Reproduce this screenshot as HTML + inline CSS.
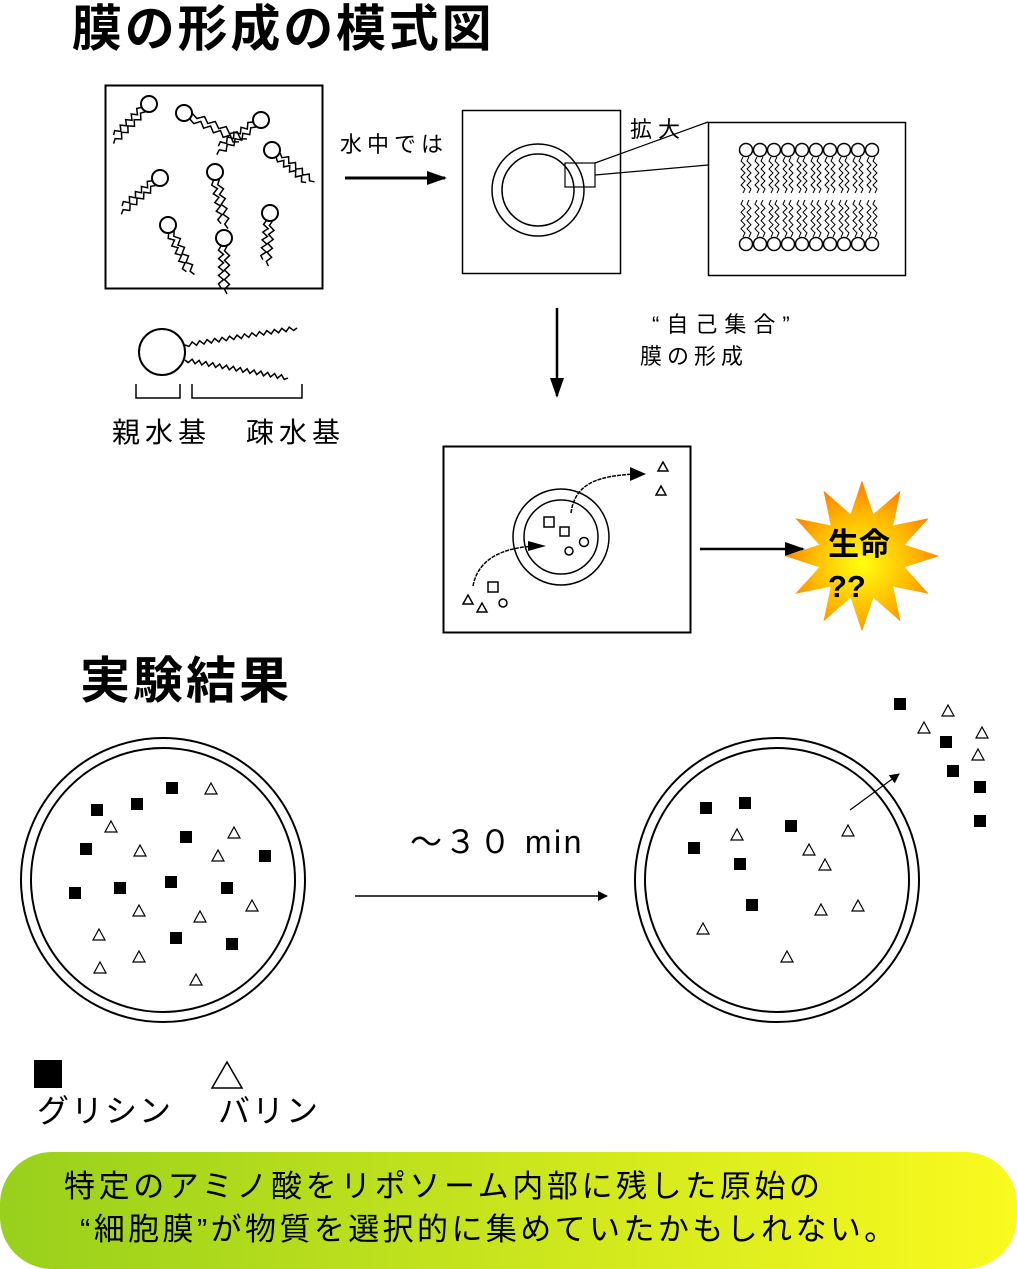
<!DOCTYPE html>
<html><head><meta charset="utf-8"><style>
html,body{margin:0;padding:0;background:#fff}
svg{display:block}
text{font-family:"Liberation Sans","Noto Sans CJK JP",sans-serif}
</style></head><body>
<svg id="s" width="1017" height="1269" viewBox="0 0 1017 1269" xmlns="http://www.w3.org/2000/svg">
<defs>
<linearGradient id="bar" x1="0" x2="1" y1="0" y2="0"><stop offset="0" stop-color="#98d01c"/><stop offset="1" stop-color="#fafa1e"/></linearGradient>
<radialGradient id="star" cx="0.5" cy="0.55" r="0.55"><stop offset="0" stop-color="#ffff10"/><stop offset="0.6" stop-color="#ffb800"/><stop offset="1" stop-color="#ff7a00"/></radialGradient>
<marker id="ah" markerWidth="10" markerHeight="10" refX="9" refY="5" orient="auto" markerUnits="userSpaceOnUse"><path d="M0,0 L10,5 L0,10 z" fill="#000"/></marker>
<marker id="ah2" markerWidth="20" markerHeight="14" refX="18" refY="7" orient="auto" markerUnits="userSpaceOnUse"><path d="M0,0 L20,7 L0,14 z" fill="#000"/></marker>
</defs>
<text x="72" y="46" font-size="50" font-weight="bold" letter-spacing="2.8">膜の形成の模式図</text>
<rect x="105.5" y="85.5" width="217" height="203" fill="none" stroke="#000" stroke-width="2"/>
<g id="lip" fill="none" stroke="#000" stroke-width="2"></g>
<line x1="345" y1="178" x2="445" y2="178" stroke="#000" stroke-width="3" marker-end="url(#ah2)"/>
<text x="340" y="152" font-size="22" letter-spacing="5">水中では</text>
<rect x="462.5" y="110.5" width="158" height="163" fill="none" stroke="#000" stroke-width="1.5"/>
<circle cx="538" cy="190" r="46" fill="none" stroke="#000" stroke-width="1.5"/>
<circle cx="538" cy="190" r="36" fill="none" stroke="#000" stroke-width="1.5"/>
<rect x="565" y="163" width="30" height="24" fill="none" stroke="#000" stroke-width="1.2"/>
<line x1="595" y1="163" x2="708" y2="122" stroke="#000" stroke-width="1.2"/>
<line x1="595" y1="175" x2="708" y2="165" stroke="#000" stroke-width="1.2"/>
<text x="630" y="137" font-size="22" letter-spacing="6">拡大</text>
<rect x="708.5" y="122.5" width="197" height="153" fill="none" stroke="#000" stroke-width="1.5"/>
<g id="bil" fill="#fff" stroke="#000" stroke-width="1.5"></g>
<line x1="557" y1="308" x2="557" y2="396" stroke="#000" stroke-width="2.5" marker-end="url(#ah2)"/>
<text x="652" y="332" font-size="22" letter-spacing="7">“自己集合”</text>
<text x="640" y="364" font-size="22" letter-spacing="5">膜の形成</text>
<circle cx="162" cy="352" r="23" fill="none" stroke="#000" stroke-width="2"/>
<path id="bt" fill="none" stroke="#000" stroke-width="1.5"/>
<path d="M136,384 V398 H180 V384 M192,384 V398 H302 V384" fill="none" stroke="#000" stroke-width="1.5"/>
<text x="112" y="442" font-size="28" letter-spacing="5">親水基</text>
<text x="246" y="442" font-size="28" letter-spacing="5">疎水基</text>
<rect x="443.5" y="446.5" width="247" height="186" fill="none" stroke="#000" stroke-width="2"/>
<circle cx="561" cy="537" r="48" fill="none" stroke="#000" stroke-width="1.5"/>
<circle cx="561" cy="537" r="37" fill="none" stroke="#000" stroke-width="1.5"/>
<g fill="none" stroke="#000" stroke-width="1.5">
<rect x="544" y="517" width="10" height="10"/><rect x="560" y="527" width="9" height="9"/>
<circle cx="584" cy="542" r="4.5"/><circle cx="569" cy="551" r="4"/>
<rect x="488" y="582" width="10" height="10"/><circle cx="503" cy="603" r="4"/>
<path d="M463,604 l5,-9 l5,9z M477,612 l5,-9 l5,9z M658,471 l5,-9 l5,9z M656,495 l5,-9 l5,9z"/>
<path d="M473,586 C478,560 500,548 535,546" stroke-dasharray="4,1"/>
<path d="M571,513 C575,482 600,476 635,474" stroke-dasharray="4,1"/>
</g>
<path d="M528,541 l18,5 l-18,5z M630,467 l16,7 l-16,7z" fill="#000"/>
<line x1="700" y1="549" x2="803" y2="549" stroke="#000" stroke-width="2.5" marker-end="url(#ah2)"/>
<polygon id="st" fill="url(#star)"/>
<text x="828" y="555" font-size="31" font-weight="bold">生命</text>
<text x="828" y="597" font-size="31" font-weight="bold">??</text>
<text x="80" y="698" font-size="50" font-weight="bold" letter-spacing="3">実験結果</text>
<circle cx="163" cy="880" r="142" fill="none" stroke="#000" stroke-width="2"/>
<circle cx="163" cy="880" r="132" fill="none" stroke="#000" stroke-width="2"/>
<circle cx="777" cy="880" r="142" fill="none" stroke="#000" stroke-width="2"/>
<circle cx="777" cy="880" r="132" fill="none" stroke="#000" stroke-width="2"/>
<line x1="355" y1="896" x2="607" y2="896" stroke="#000" stroke-width="1.5" marker-end="url(#ah)"/>
<text x="410" y="853" font-size="32" letter-spacing="2.5">～３０ min</text>
<line x1="850" y1="810" x2="899" y2="774" stroke="#000" stroke-width="1.2" marker-end="url(#ah)"/>
<g id="pts"></g>
<rect x="34" y="1060" width="28" height="28" fill="#000"/>
<path d="M212,1088 L227,1062 L242,1088 Z" fill="none" stroke="#000" stroke-width="1.5"/>
<text x="37" y="1122" font-size="32" letter-spacing="2">グリシン</text>
<text x="218" y="1122" font-size="32" letter-spacing="2">バリン</text>
<rect x="0" y="1152" width="1017" height="117" rx="52" fill="url(#bar)"/>
<text x="64" y="1197" font-size="31" letter-spacing="3.6">特定のアミノ酸をリポソーム内部に残した原始の</text>
<text x="80" y="1240" font-size="31" letter-spacing="3.4">“細胞膜”が物質を選択的に集めていたかもしれない。</text>
</svg>
<script>
var NS="http://www.w3.org/2000/svg";
function el(p,t,a){var e=document.createElementNS(NS,t);for(var k in a)e.setAttribute(k,a[k]);p.appendChild(e);return e;}
function zig(x0,y0,x1,y1,n,amp){var dx=x1-x0,dy=y1-y0,L=Math.hypot(dx,dy),nx=-dy/L,ny=dx/L,d="M"+x0+","+y0;
for(var i=1;i<=n;i++){var t=i/n,s=(i%2?amp:-amp);if(i==n)s=0;d+=" L"+(x0+dx*t+nx*s).toFixed(1)+","+(y0+dy*t+ny*s).toFixed(1);}return d;}
var lip=document.getElementById("lip");
function lipid(cx,cy,ang,len){var r=8;el(lip,"circle",{cx:cx,cy:cy,r:r});
var a=ang*Math.PI/180,ux=Math.cos(a),uy=Math.sin(a),px=-uy,py=ux;
[-3,3].forEach(function(o,j){var sx=cx+ux*r+px*o,sy=cy+uy*r+py*o,l=len-(j*6);
el(lip,"path",{d:zig(sx,sy,sx+ux*l,sy+uy*l,10,2.5),"stroke-width":1.5});});}
lipid(149,104,135,45);lipid(184,113,25,60);lipid(261,120,145,48);lipid(272,150,40,45);
lipid(160,178,140,45);lipid(215,172,80,50);lipid(270,213,95,45);lipid(168,225,65,48);lipid(224,238,90,48);
var bil=document.getElementById("bil");
for(var i=0;i<10;i++){var x=746+i*14;
for(var j=0;j<2;j++){var xx=x-3+j*6;el(bil,"path",{d:zig(xx,157,xx,193,9,2),fill:"none","stroke-width":1});el(bil,"path",{d:zig(xx,200,xx,237,9,2),fill:"none","stroke-width":1});}
el(bil,"circle",{cx:x,cy:150,r:6.5});el(bil,"circle",{cx:x,cy:244,r:6.5});}
document.getElementById("bt").setAttribute("d",zig(185,345,297,328,30,2)+" "+zig(185,360,288,378,30,2));
var pts=[];var R=44,r2=26,cx=862,cy=556;
for(var k=0;k<24;k++){var rr=(k%2?r2*1.7:R*1.75),a=(k*15-90)*Math.PI/180;pts.push((cx+Math.cos(a)*rr).toFixed(1)+","+(cy+Math.sin(a)*rr*0.98).toFixed(1));}
document.getElementById("st").setAttribute("points",pts.join(" "));
var g=document.getElementById("pts");
var sq=[[97,810],[137,804],[172,788],[186,837],[86,849],[265,856],[75,893],[120,888],[171,882],[227,888],[176,938],[232,944],
[706,808],[745,803],[791,826],[694,848],[740,864],[752,905],[900,704],[946,742],[953,771],[980,787],[980,821]];
sq.forEach(function(p){el(g,"rect",{x:p[0]-6,y:p[1]-6,width:12,height:12,fill:"#000"});});
var tr=[[211,789],[111,827],[234,833],[140,851],[218,856],[139,911],[200,917],[252,906],[99,935],[139,957],[100,968],[196,980],
[737,835],[848,831],[809,850],[825,865],[821,910],[858,906],[703,929],[787,957],[924,728],[948,711],[982,733],[978,755]];
tr.forEach(function(p){el(g,"path",{d:"M"+(p[0]-6)+","+(p[1]+5)+" L"+p[0]+","+(p[1]-6)+" L"+(p[0]+6)+","+(p[1]+5)+"Z",fill:"none",stroke:"#000","stroke-width":1.2});});
</script>
</body></html>
